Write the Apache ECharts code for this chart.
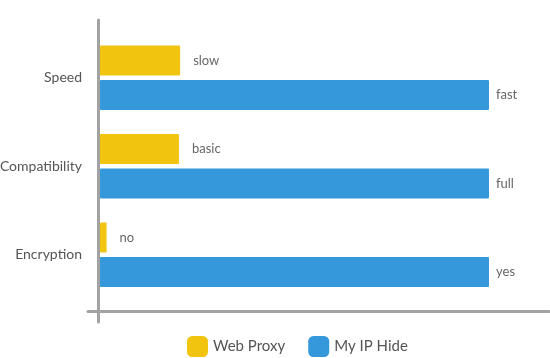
<!DOCTYPE html>
<html><head><meta charset="utf-8">
<script src="https://cdn.jsdelivr.net/npm/echarts@6/dist/echarts.min.js"></script>
<style>html,body{margin:0;padding:0;background:#fff}#c{width:550px;height:358px}</style>
</head><body><div id="c"></div>
<script>
var categories = ['Speed', 'Compatibility', 'Encryption'];
var seriesNames = ['Web Proxy', 'My IP Hide'];
var webProxyValues = [20.6, 20.3, 1.7];
var myIpHideValues = [100, 100, 100];
var webProxyLabels = ['slow', 'basic', 'no'];
var myIpHideLabels = ['fast', 'full', 'yes'];

var chart = echarts.init(document.getElementById('c'));
var font = 'Lato';
chart.setOption({
  animation: false,
  textStyle: {fontFamily: font},
  grid: [
    {left: 100, right: 61, top: 33.5, bottom: 59, outerBoundsMode: 'none', containLabel: false},
    {left: 88, right: 1, top: 20, bottom: 36, outerBoundsMode: 'none', containLabel: false}
  ],
  legend: {
    data: seriesNames,
    left: 187, top: 336, padding: 0,
    itemWidth: 21, itemHeight: 21, itemGap: 23,
    icon: 'roundRect',
    textStyle: {fontFamily: font, fontSize: 15, color: '#555'}
  },
  xAxis: [
    {type: 'value', gridIndex: 0, min: 0, max: 100, show: false},
    {type: 'value', gridIndex: 1, min: 0, max: 1, position: 'bottom', offset: -10.5,
     axisLine: {show: true, lineStyle: {color: '#a2a2a2', width: 3}},
     axisTick: {show: false}, axisLabel: {show: false}, splitLine: {show: false}}
  ],
  yAxis: [
    {type: 'category', gridIndex: 0, data: categories, inverse: true,
     axisLine: {show: false}, axisTick: {show: false},
     axisLabel: {margin: 18, fontFamily: font, fontSize: 14, color: '#555'}},
    {type: 'value', gridIndex: 1, min: 0, max: 1, position: 'left', offset: -10.5,
     axisLine: {show: true, lineStyle: {color: '#a2a2a2', width: 3}},
     axisTick: {show: false}, axisLabel: {show: false}, splitLine: {show: false}}
  ],
  series: [
    {name: seriesNames[0], type: 'bar', xAxisIndex: 0, yAxisIndex: 0,
     data: webProxyValues, barWidth: 30, barGap: '15%',
     itemStyle: {color: '#f1c40f', borderRadius: 1},
     label: {show: true, position: 'right', distance: 13, fontFamily: font, fontSize: 13, color: '#666',
       formatter: function (p) { return webProxyLabels[p.dataIndex]; }}},
    {name: seriesNames[1], type: 'bar', xAxisIndex: 0, yAxisIndex: 0,
     data: myIpHideValues, barWidth: 30, barGap: '15%',
     itemStyle: {color: '#3498db', borderRadius: 1},
     label: {show: true, position: 'right', distance: 7, fontFamily: font, fontSize: 13, color: '#666',
       formatter: function (p) { return myIpHideLabels[p.dataIndex]; }}}
  ]
});
</script></body></html>
